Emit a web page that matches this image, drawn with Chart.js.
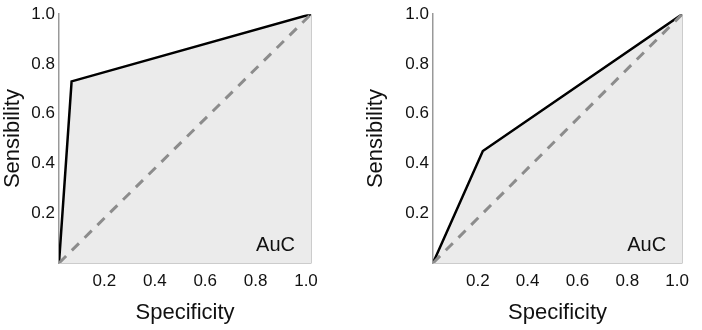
<!DOCTYPE html>
<html>
<head>
<meta charset="utf-8">
<script src="https://cdn.jsdelivr.net/npm/chart.js@4.4.1/dist/chart.umd.min.js"></script>
<style>
  body { margin: 0; background: #fff; }
  .wrap { position: relative; width: 702px; height: 330px; }
  canvas { position: absolute; top: 0; }
</style>
</head>
<body>
<div class="wrap">
  <canvas id="rocLeft" width="351" height="330" style="left:0"></canvas>
  <canvas id="rocRight" width="351" height="330" style="left:351px"></canvas>
</div>
<script>
// ROC points
const specificityLeft = [0, 0.05, 1];
const sensibilityLeft = [0, 0.73, 1];
const specificityRight = [0, 0.2, 1];
const sensibilityRight = [0, 0.45, 1];
const diagonal = [0, 1];
const tickValues = [0, 0.2, 0.4, 0.6, 0.8, 1.0];
const cornerLabel = 'AuC';

const FONT = 'Liberation Sans, Arial, sans-serif';
const axisGrey = '#999999';

const aucLabel = {
  id: 'aucLabel',
  afterDatasetsDraw(chart) {
    const { ctx, chartArea } = chart;
    ctx.save();
    ctx.font = '20px ' + FONT;
    ctx.fillStyle = '#111';
    ctx.textAlign = 'right';
    ctx.textBaseline = 'alphabetic';
    ctx.fillText(cornerLabel, chartArea.right - 16, chartArea.bottom - 12);
    ctx.restore();
  }
};

function makeRoc(id, xs, ys, yWidth, padLeft, padRight) {
  const curve = xs.map((x, i) => ({ x: x, y: ys[i] }));
  const diag = diagonal.map(v => ({ x: v, y: v }));
  return new Chart(document.getElementById(id), {
    type: 'scatter',
    data: {
      datasets: [
        {
          data: diag,
          showLine: true,
          borderColor: '#8c8c8c',
          borderWidth: 3,
          borderDash: [10, 8],
          pointRadius: 0,
          fill: false,
          order: 0
        },
        {
          data: curve,
          showLine: true,
          borderColor: '#000',
          borderWidth: 2.5,
          backgroundColor: '#ebebeb',
          pointRadius: 0,
          fill: 'origin',
          order: 1
        }
      ]
    },
    options: {
      responsive: false,
      animation: false,
      layout: { padding: { left: padLeft, right: padRight, top: 12, bottom: 0 } },
      plugins: { legend: { display: false }, tooltip: { enabled: false } },
      scales: {
        x: {
          type: 'linear', min: 0, max: 1,
          afterBuildTicks: s => { s.ticks = tickValues.map(v => ({ value: v })); },
          afterFit: s => { s.height = 67; },
          border: { display: true, color: axisGrey, width: 1.5 },
          grid: {
            drawTicks: false,
            lineWidth: 1.5,
            color: c => (c.tick && c.tick.value === 1 ? axisGrey : 'rgba(0,0,0,0)')
          },
          ticks: {
            padding: 8,
            labelOffset: -5,
            color: '#111',
            font: { family: FONT, size: 17 },
            callback: v => (v === 0 ? '' : v.toFixed(1))
          },
          title: {
            display: true, text: 'Specificity', color: '#111',
            font: { family: FONT, size: 22 },
            padding: { top: 4, bottom: 4 }
          }
        },
        y: {
          type: 'linear', min: 0, max: 1,
          afterBuildTicks: s => { s.ticks = tickValues.map(v => ({ value: v })); },
          afterFit: s => { s.width = yWidth; },
          border: { display: true, color: axisGrey, width: 1.5 },
          grid: { display: false, drawTicks: false },
          ticks: {
            padding: 4,
            color: '#111',
            font: { family: FONT, size: 17 },
            callback: v => (v === 0 ? '' : v.toFixed(1))
          },
          title: {
            display: true, text: 'Sensibility', color: '#111',
            font: { family: FONT, size: 22 },
            padding: { top: 0, bottom: 0 }
          }
        }
      }
    },
    plugins: [aucLabel]
  });
}

makeRoc('rocLeft', specificityLeft, sensibilityLeft, 59, 0, 40);
makeRoc('rocRight', specificityRight, sensibilityRight, 70, 12, 17);
</script>
</body>
</html>
